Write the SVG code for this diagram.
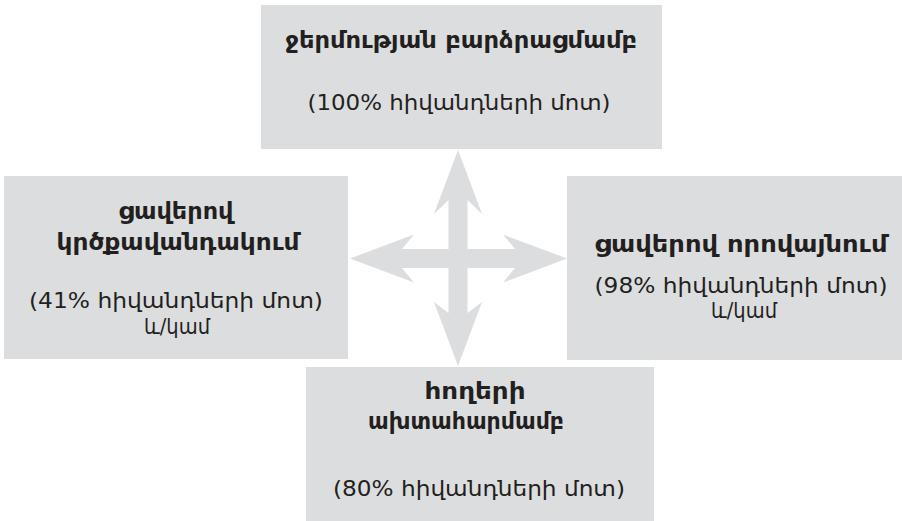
<svg xmlns="http://www.w3.org/2000/svg" width="902" height="521" viewBox="0 0 902 521">
<style>
.box{fill:#dcdddf}
.t{font-family:"DejaVu Sans","Noto Sans",sans-serif;font-size:22px;fill:#231f20;text-anchor:middle}
.b{font-weight:bold;font-size:23px}
.arrow{fill:#dcdddf}
</style>
<rect width="902" height="521" fill="#ffffff"/>
<g id="node-top">
<rect class="box" x="261" y="5" width="401" height="144"/>
<text class="t b" x="461" y="48" textLength="352" lengthAdjust="spacingAndGlyphs">ջերմության բարձրացմամբ</text>
<text class="t" x="459" y="110" textLength="303" lengthAdjust="spacingAndGlyphs">(100% հիվանդների մոտ)</text>
</g>
<g id="node-left">
<rect class="box" x="4" y="176" width="344" height="183"/>
<text class="t b" x="176" y="219" textLength="115" lengthAdjust="spacingAndGlyphs">ցավերով</text>
<text class="t b" x="178" y="250" textLength="243" lengthAdjust="spacingAndGlyphs">կրծքավանդակում</text>
<text class="t" x="176" y="308" textLength="294" lengthAdjust="spacingAndGlyphs">(41% հիվանդների մոտ)</text>
<text class="t" x="177" y="334" textLength="66" lengthAdjust="spacingAndGlyphs">և/կամ</text>
</g>
<g id="node-right">
<rect class="box" x="567" y="176" width="335" height="184"/>
<text class="t b" x="741" y="252" textLength="293" lengthAdjust="spacingAndGlyphs">ցավերով որովայնում</text>
<text class="t" x="741" y="293" textLength="293" lengthAdjust="spacingAndGlyphs">(98% հիվանդների մոտ)</text>
<text class="t" x="744" y="318" textLength="66" lengthAdjust="spacingAndGlyphs">և/կամ</text>
</g>
<g id="node-bottom">
<rect class="box" x="306" y="367" width="348" height="154"/>
<text class="t b" x="475" y="399" textLength="101" lengthAdjust="spacingAndGlyphs">հողերի</text>
<text class="t b" x="466" y="429" textLength="196" lengthAdjust="spacingAndGlyphs">ախտահարմամբ</text>
<text class="t" x="479" y="496" textLength="292" lengthAdjust="spacingAndGlyphs">(80% հիվանդների մոտ)</text>
</g>
<g id="connectors">
<path class="arrow" d="M458,150 L482,214 L467.5,200 L467.5,249 L515,249 L503,234.5 L567,258.5 L503,282.5 L515,268 L467.5,268 L467.5,313 L482,302 L458,366 L434,302 L448.5,313 L448.5,268 L402,268 L414,282.5 L350,258.5 L414,234.5 L402,249 L448.5,249 L448.5,200 L434,214 Z"/>
</g>
</svg>
